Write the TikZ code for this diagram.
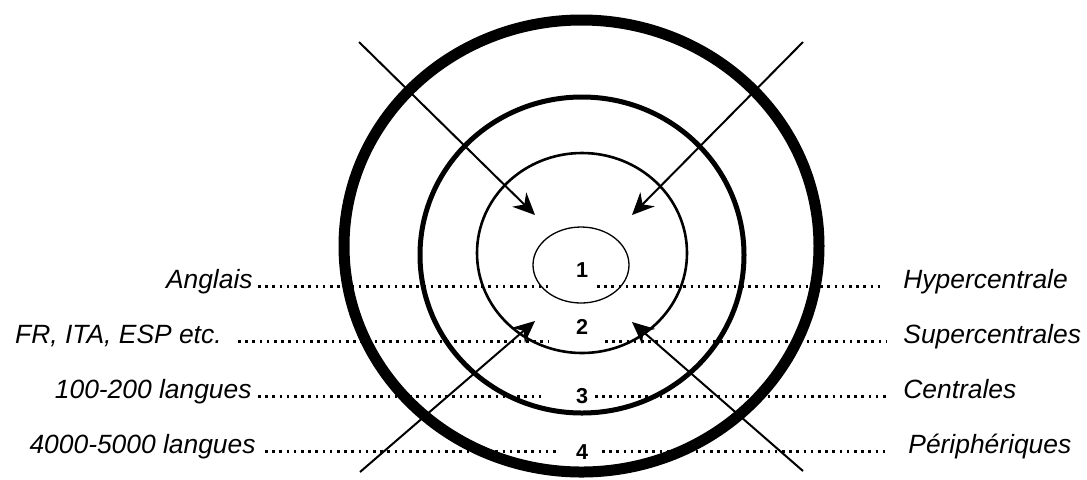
\documentclass[tikz,border=0pt]{standalone}
\usepackage{fontspec}
\setmainfont{Liberation Sans}
\usetikzlibrary{arrows.meta}
\begin{document}
\begin{tikzpicture}[x=0.5pt,y=-0.5pt,
  lab/.style={font=\fontsize{13.2}{15}\selectfont\itshape, inner sep=0pt},
  num/.style={font=\fontsize{10.8}{12}\selectfont\bfseries, inner sep=0pt},
  dots/.style={line width=1.3pt, dash pattern=on 1.3pt off 2.3pt},
  arr/.style={line width=1pt, -{Stealth[length=11pt,width=10pt,inset=3.5pt]}},
]
\useasboundingbox (0,0) rectangle (1087,479);
% rings
\draw[line width=5.5pt] (581.5,246) ellipse [x radius=237.5, y radius=226];
\draw[line width=2.5pt] (582,255) ellipse [x radius=162, y radius=158];
\draw[line width=1.3pt] (582,253) ellipse [x radius=105, y radius=100];
\draw[line width=0.65pt] (581,265) ellipse [x radius=48, y radius=38];
% numbers
\node[num] (n1) at (582,270) {1};
\node[num] (n2) at (582,327) {2};
\node[num] (n3) at (582,396) {3};
\node[num] (n4) at (582,452) {4};
% left labels
\node[lab, anchor=base east] (L1) at (253,288) {Anglais};
\node[lab, anchor=base east] (L2) at (222,343) {FR, ITA, ESP etc.};
\node[lab, anchor=base east] (L3) at (252,398) {100-200 langues};
\node[lab, anchor=base east] (L4) at (256,453) {4000-5000 langues};
% right labels
\node[lab, anchor=base west] (R1) at (903,288) {Hypercentrale};
\node[lab, anchor=base west] (R2) at (903,343) {Supercentrales};
\node[lab, anchor=base west] (R3) at (903,398) {Centrales};
\node[lab, anchor=base west] (R4) at (908,453) {Périphériques};
% dotted line ends
\coordinate (l1a) at (258,286.5); \coordinate (l1b) at (548,286.5);
\coordinate (r1a) at (597,286.5); \coordinate (r1b) at (884,286.5);
\coordinate (l2a) at (238,341.5); \coordinate (l2b) at (548,341.5);
\coordinate (r2a) at (605,341.5); \coordinate (r2b) at (886,341.5);
\coordinate (l3a) at (258,396.5); \coordinate (l3b) at (544,396.5);
\coordinate (r3a) at (595,396.5); \coordinate (r3b) at (886,396.5);
\coordinate (l4a) at (265,451.5); \coordinate (l4b) at (560,451.5);
\coordinate (r4a) at (602,451.5); \coordinate (r4b) at (889,451.5);
\foreach \i in {1,2,3,4}{
  \draw[dots] (l\i a) -- (l\i b);
  \draw[dots] (r\i a) -- (r\i b);
}
% arrows
\coordinate (a1s) at (359,42);  \coordinate (a1e) at (535,215);
\coordinate (a2s) at (803,42);  \coordinate (a2e) at (632,215);
\coordinate (a3s) at (360,472); \coordinate (a3e) at (535,321);
\coordinate (a4s) at (803,471); \coordinate (a4e) at (632,322);
\draw[arr] (a1s) -- (a1e);
\draw[arr] (a2s) -- (a2e);
\draw[arr] (a3s) -- (a3e);
\draw[arr] (a4s) -- (a4e);
\end{tikzpicture}
\end{document}
